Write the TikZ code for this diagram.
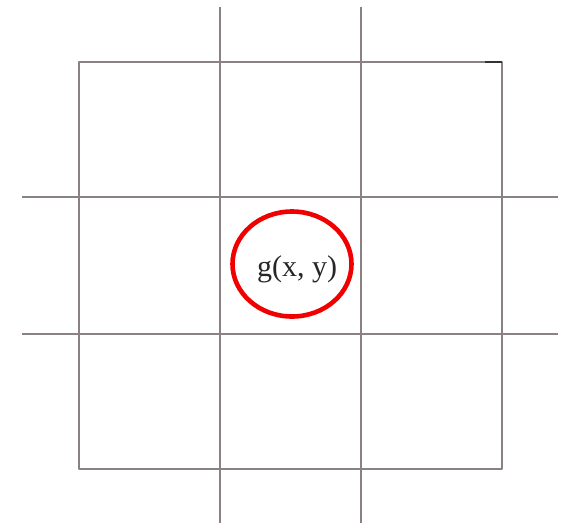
\documentclass[tikz,border=0pt]{standalone}
\usepackage{fontspec}
\setmainfont{Liberation Serif}
\usepackage{xcolor}
\usetikzlibrary{positioning, shapes.geometric}

\definecolor{gridgray}{RGB}{138,130,130}
\definecolor{ringred}{RGB}{240,0,0}

\begin{document}
\begin{tikzpicture}[x=1pt, y=-1pt, gridline/.style={draw=gridgray, line width=1.5pt}]
  \useasboundingbox (0,0) rectangle (565,523);
  % 外框
  \coordinate (tl) at (79,62);
  \coordinate (tr) at (502,62);
  \coordinate (br) at (502,469);
  \coordinate (bl) at (79,469);
  \coordinate (tk) at (485,62);
  \draw[gridline, line join=round] (tl) -- (tr) -- (br) -- (bl) -- cycle;
  \draw[line width=1.6pt, black!80] (tk) -- (tr);
  % 竖线
  \coordinate (va1) at (220,7);
  \coordinate (vb1) at (220,523);
  \coordinate (va2) at (361,7);
  \coordinate (vb2) at (361,523);
  \draw[gridline] (va1) -- (vb1);
  \draw[gridline] (va2) -- (vb2);
  % 横线
  \coordinate (ha1) at (22,197);
  \coordinate (hb1) at (558,197);
  \coordinate (ha2) at (22,334);
  \coordinate (hb2) at (558,334);
  \draw[gridline] (ha1) -- (hb1);
  \draw[gridline] (ha2) -- (hb2);
  % 中心
  \node[draw=ringred, ellipse, line width=4.6pt, minimum width=119pt, minimum height=105pt, inner sep=0pt] (ring) at (292,264) {};
  \node[font=\fontsize{30}{34}\selectfont, text=black!85, inner sep=0pt] (gxy) at (297,269) {g(x, y)};
\end{tikzpicture}
\end{document}
